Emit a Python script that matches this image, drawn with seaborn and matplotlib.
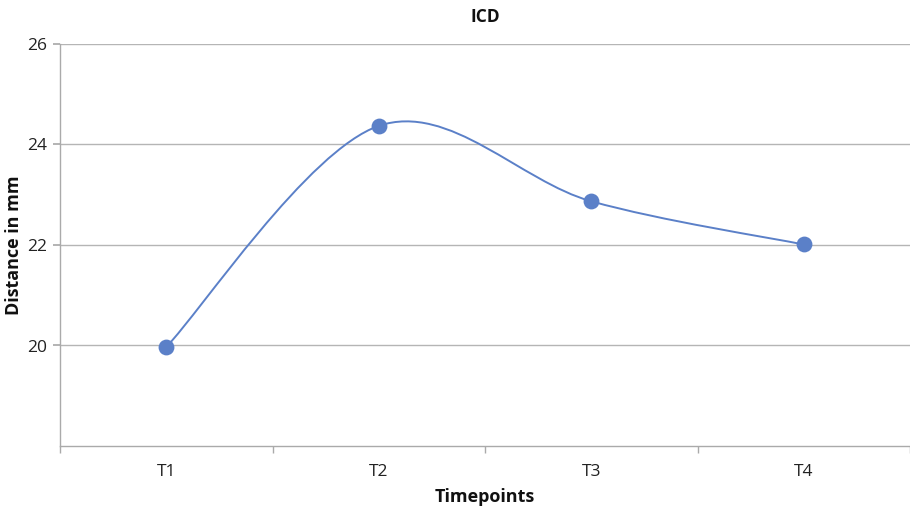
import numpy as np
import pandas as pd
import matplotlib
matplotlib.use("Agg")
import matplotlib.pyplot as plt
from matplotlib.path import Path
from matplotlib.patches import PathPatch
import seaborn as sns

categories = ["T1", "T2", "T3", "T4"]
distance = [19.97, 24.37, 22.87, 22.01]
y_ticks = [20, 22, 24, 26]

sns.set_theme(style="white")
plt.rcParams['font.family'] = ['Open Sans', 'DejaVu Sans']

df = pd.DataFrame({"Timepoints": categories, "Distance": distance})
df["pos"] = np.arange(len(categories))

fig = plt.figure(figsize=(9.10, 5.11), dpi=100)
ax = fig.add_axes([60/910, 65/511, 1 - 60/910, (446-44)/511])

color = "#5B80C8"

# Smoothed line (Excel-style Bezier through points)
xs = df["pos"].to_numpy(dtype=float)
ys = df["Distance"].to_numpy(dtype=float)
n = len(xs)
verts = [(xs[0], ys[0])]
codes = [Path.MOVETO]
for i in range(n - 1):
    p0 = np.array([xs[max(i-1, 0)], ys[max(i-1, 0)]])
    p1 = np.array([xs[i], ys[i]])
    p2 = np.array([xs[i+1], ys[i+1]])
    p3 = np.array([xs[min(i+2, n-1)], ys[min(i+2, n-1)]])
    c1 = p1 + (p2 - p0) / 6.0
    c2 = p2 - (p3 - p1) / 6.0
    verts += [tuple(c1), tuple(c2), tuple(p2)]
    codes += [Path.CURVE4] * 3
ax.add_patch(PathPatch(Path(verts, codes), facecolor="none", edgecolor=color, lw=1.4, zorder=3))

sns.scatterplot(data=df, x="pos", y="Distance", ax=ax, color=color, s=130,
                marker="o", edgecolor=color, linewidth=0, zorder=4, legend=False)

ax.set_xlim(-0.5, 3.5)
ax.set_ylim(18, 26)
ax.set_yticks(y_ticks)
ax.set_yticklabels([str(v) for v in y_ticks])
ax.set_xticks(xs)
ax.set_xticklabels(categories)
ax.set_xticks(np.arange(-0.5, 3.6, 1.0), minor=True)
ax.tick_params(axis="x", which="major", length=0, labelsize=12.5, colors="#222222", pad=13)
ax.tick_params(axis="x", which="minor", bottom=True, length=5, color="#aaaaaa", width=1)
ax.tick_params(axis="y", which="major", left=True, length=5, color="#aaaaaa", labelsize=12.5,
               labelcolor="#222222", pad=4)

ax.grid(axis="y", color="#b5b5b5", lw=1)
ax.set_axisbelow(True)
for s in ["top", "right"]:
    ax.spines[s].set_visible(False)
for s in ["left", "bottom"]:
    ax.spines[s].set_color("#aaaaaa")
    ax.spines[s].set_linewidth(1)

ax.set_xlabel("Timepoints", fontsize=13, fontweight="bold", labelpad=6, color="#111111")
ax.set_ylabel("Distance in mm", fontsize=13, fontweight="bold", labelpad=3, color="#111111")
ax.set_title("ICD", fontsize=12.5, fontweight="bold", pad=16, color="#111111")

fig.savefig("out.png", dpi=100)
